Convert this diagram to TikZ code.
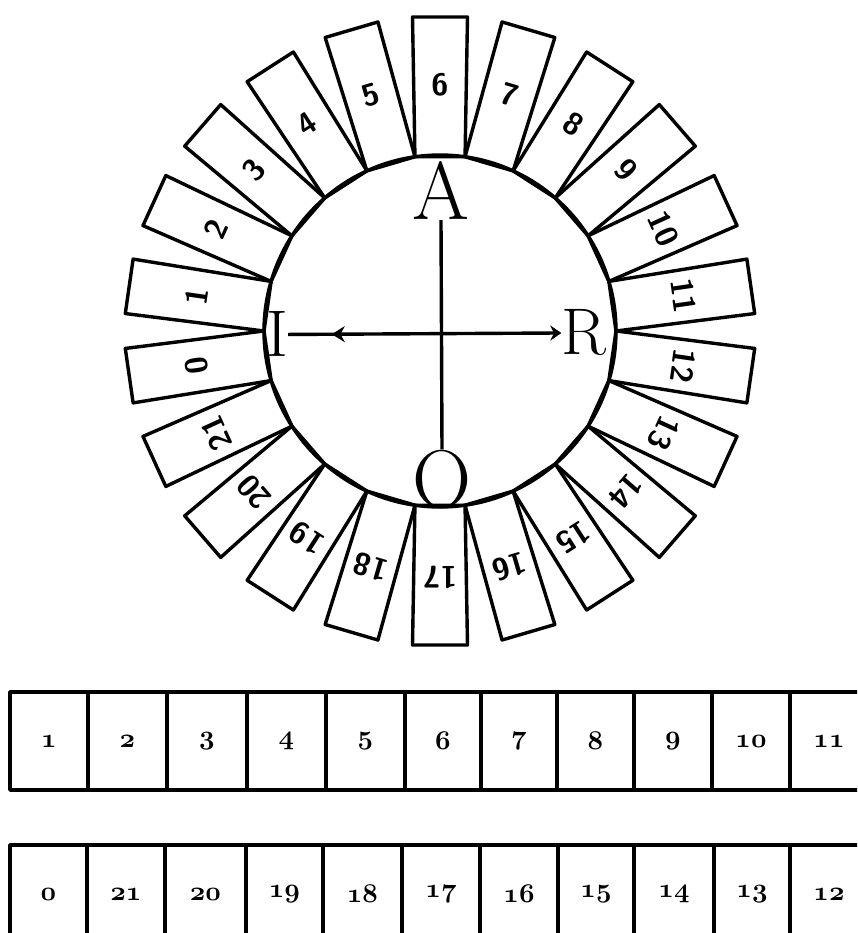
\RequirePackage{fix-cm}
\documentclass[tikz,border=0pt]{standalone}
\usetikzlibrary{arrows.meta,decorations.markings}
\newcommand{\osnum}[1]{{\usefont{OML}{cmm}{b}{it}\fontsize{27}{27}\selectfont #1}}
\begin{document}
\begin{tikzpicture}[x=1pt,y=1pt,
  ink/.style={line width=3.4pt,line join=round},
  tab/.style={ink,draw=black,fill=white},
  tabnum/.style={font=\sffamily\bfseries\fontsize{31}{31}\selectfont,inner sep=0pt},
  bigletter/.style={font=\fontsize{82}{82}\selectfont,inner sep=0pt},
  midletter/.style={font=\fontsize{66}{66}\selectfont,inner sep=0pt},
  cell/.style={draw,ink,rectangle,minimum height=98pt,inner sep=0pt}]
\useasboundingbox (-440,331) rectangle (417,-602);
\clip (-440,331) rectangle (417,-602);
\fill[white] (-440,331) rectangle (417,-602);
% tabs of the wheel
\foreach \k in {0,...,21}{
  \pgfmathsetmacro\ang{90-(\k-6)*360/22}
  \begin{scope}[rotate=\ang-90]
    \draw[tab] (-25.05,174.2) -- (-27.5,314) -- (27.5,314) -- (25.05,174.2) -- cycle;
    \node[tabnum, rotate=\ang-90] (t\k) at (0,246) {\k};
  \end{scope}
}
\draw[ink] (0,0) circle (176);
% cross with letters
\node[bigletter, anchor=base] (A) at (1,111) {A};
\node[bigletter, anchor=base] (O) at (2,-176) {O};
\node[midletter, anchor=base] (I) at (-163,-26) {I};
\node[midletter, anchor=base] (R) at (144,-24) {R};
\draw[ink] (A.south) -- (O.north);
\draw[ink, -{Stealth[length=11pt,width=15pt]},
  decoration={markings, mark=at position 0.16 with {\arrowreversed{Stealth[length=13pt,width=16pt]}}},
  postaction={decorate}] (I.east) -- (R.west);
% first row of cells
\foreach \l/\r/\t [count=\i] in {10/88/1, 88/167/2, 167/247/3, 247/326/4, 326/405/5, 405/481/6, 481/557/7, 557/634/8, 634/712/9, 712/790/10, 790/868/11}{
  \pgfmathsetmacro\w{\r-\l}
  \pgfmathsetmacro\cx{(\l+\r)/2-440}
  \node[cell, minimum width=\w pt] (a\i) at (\cx,-410) {\osnum{\t}};
}
% second row of cells
\foreach \l/\r/\t [count=\i] in {10/87/0, 87/165/21, 165/246/20, 246/323/19, 323/402/18, 402/480/17, 480/558/16, 558/634/15, 634/714/14, 714/790/13, 790/868/12}{
  \pgfmathsetmacro\w{\r-\l}
  \pgfmathsetmacro\cx{(\l+\r)/2-440}
  \node[cell, minimum width=\w pt] (b\i) at (\cx,-563) {\osnum{\t}};
}
\end{tikzpicture}
\end{document}
